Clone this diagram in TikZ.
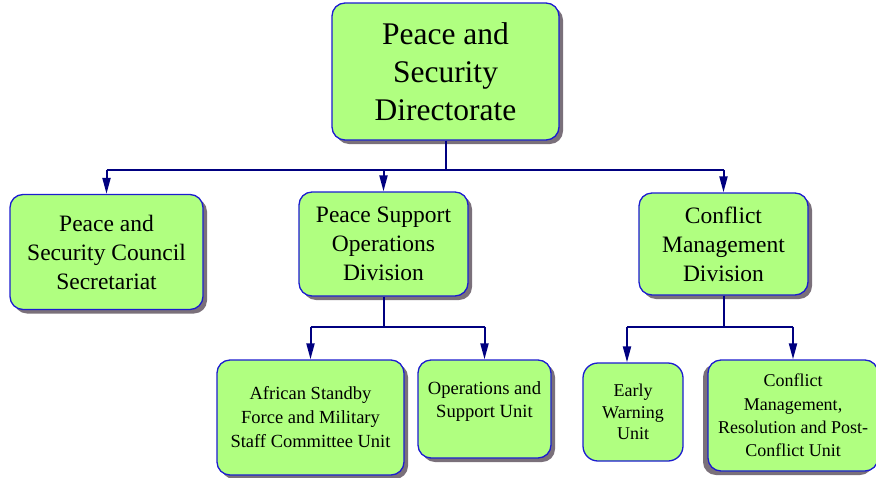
\documentclass[tikz,border=0pt]{standalone}
\usepackage{fontspec}
\setmainfont{Liberation Serif}
\usetikzlibrary{shadows,arrows.meta,calc}
\definecolor{boxfill}{HTML}{B0FF80}
\definecolor{boxline}{HTML}{1C1CD0}
\definecolor{connc}{HTML}{000080}
\definecolor{shadowc}{RGB}{122,112,122}
\begin{document}
\begin{tikzpicture}[x=1pt,y=-1pt,
  orgbase/.style={draw=boxline, line width=1.3pt, fill=boxfill, rounded corners=13pt,
    align=center, inner sep=0pt},
  orgbox/.style={orgbase,
    drop shadow={shadow xshift=4pt, shadow yshift=-4pt, fill=shadowc, opacity=1}},
  leftbox/.style={orgbase,
    drop shadow={shadow xshift=-5pt, shadow yshift=-4pt, fill=shadowc, opacity=1}},
  topfont/.style={font=\fontsize{31.5}{38}\selectfont},
  midfont/.style={font=\fontsize{23.5}{29}\selectfont},
  lowfont/.style={font=\fontsize{18.5}{24}\selectfont},
  conn/.style={draw=connc, line width=2pt},
  arr/.style={conn, -{Triangle[width=8pt,length=16pt]}}]
\useasboundingbox (0,0) rectangle (876,477);
% boxes
\node[orgbox, topfont, minimum width=227pt, minimum height=137pt] (top) at (445.5,71.5)
  {Peace and\\Security\\Directorate};
\node[orgbox, midfont, minimum width=193pt, minimum height=115pt] (b1) at (106.5,252)
  {Peace and\\Security Council\\Secretariat};
\node[orgbox, midfont, minimum width=169pt, minimum height=104pt] (b2) at (383.5,244)
  {Peace Support\\Operations\\Division};
\node[orgbox, midfont, minimum width=169pt, minimum height=102pt] (b3) at (723.5,244)
  {Conflict\\Management\\Division};
\node[orgbox, lowfont, minimum width=187pt, minimum height=115pt] (b4) at (310.5,417.5)
  {African Standby\\Force and Military\\Staff Committee Unit};
\node[orgbox, minimum width=133pt, minimum height=98pt,
  label={[name=b5t, font=\fontsize{18.6}{23}\selectfont, align=center, yshift=7pt]center:Operations and\\Support Unit}]
  (b5) at (484.5,409) {};
\node[orgbase, font=\fontsize{18}{21.5}\selectfont,
  minimum width=100pt, minimum height=98pt, rounded corners=15pt] (b6) at (633,412)
  {Early\\Warning\\Unit};
\node[leftbox, font=\fontsize{18}{23.3}\selectfont, minimum width=170pt, minimum height=111pt] (b7) at (793,415.5)
  {Conflict\\Management,\\Resolution and Post-\\Conflict Unit};
% level 1 connectors
\draw[conn] (top.south) -- ++(0,29) coordinate (j1);
\draw[conn] (j1 -| b1.north) -- (j1 -| b3.north);
\draw[arr] (j1 -| b1.north) -- (b1.north);
\draw[arr] (j1 -| b2.north) -- (b2.north);
\draw[arr] (j1 -| b3.north) -- (b3.north);
% level 2 connectors (PSOD)
\draw[conn] (b2.south) -- ++(0,30) coordinate (j2);
\draw[conn] (j2 -| b4.north) -- (j2 -| b5.north);
\draw[arr] (j2 -| b4.north) -- (b4.north);
\draw[arr] (j2 -| b5.north) -- (b5.north);
% level 2 connectors (CMD)
\coordinate (b6in) at ($(b6.north)+(-6,0)$);
\draw[conn] (b3.south) -- ++(0,31) coordinate (j3);
\draw[conn] (j3 -| b6in) -- (j3 -| b7.north);
\draw[arr] (j3 -| b6in) -- (b6in);
\draw[arr] (j3 -| b7.north) -- (b7.north);
\end{tikzpicture}
\end{document}
